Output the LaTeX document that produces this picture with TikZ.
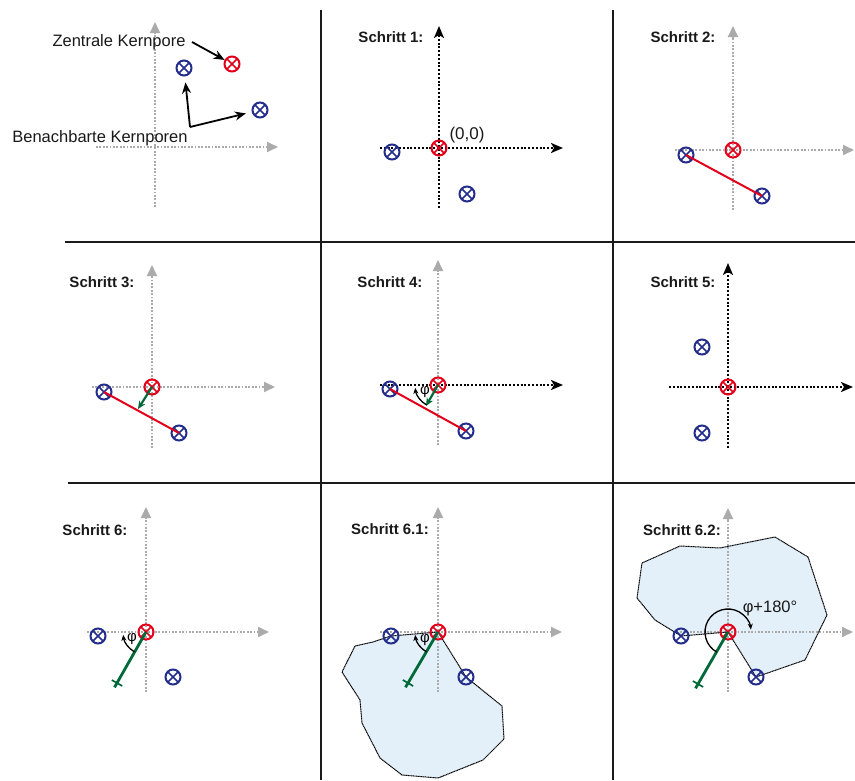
\documentclass[tikz,border=0pt]{standalone}
\usepackage{fontspec}
\setmainfont{Liberation Sans}
\usetikzlibrary{arrows.meta,calc}
\definecolor{navy}{HTML}{232D8C}
\definecolor{pred}{HTML}{E2001A}
\definecolor{pgreen}{HTML}{00693A}
\definecolor{axgray}{HTML}{ABABAB}
\definecolor{fillblue}{HTML}{E3EFF9}
\definecolor{gridcol}{HTML}{1A1A1A}
\begin{document}
\begin{tikzpicture}[x=1pt,y=-1pt,
  pore/.style={circle,draw=#1,line width=2pt,minimum size=15pt,inner sep=0pt,
    path picture={\draw[#1,line width=1.6pt]
      (path picture bounding box.north west) -- (path picture bounding box.south east)
      (path picture bounding box.north east) -- (path picture bounding box.south west);}},
  gax/.style={axgray,line width=1.8pt,dash pattern=on 1.8pt off 1.6pt,-{Triangle[length=11pt,width=10pt]}},
  bax/.style={black,line width=2pt,dash pattern=on 2pt off 1.8pt,-{Stealth[length=12pt,width=10pt,inset=3pt]}},
  gridline/.style={gridcol,line width=2pt},
  steplabel/.style={font=\bfseries\fontsize{15}{17}\selectfont,text=black!90,inner sep=0pt},
  biglabel/.style={font=\fontsize{16.5}{18}\selectfont,text=black!90,inner sep=0pt},
  pointer/.style={black,line width=1.8pt,-{Stealth[length=11pt,width=9pt]}},
  redline/.style={pred,line width=2pt},
  greenarrow/.style={pgreen,line width=2.2pt,-{Stealth[length=8pt,width=7pt]}},
  greenline/.style={pgreen,line width=2.8pt},
  greencross/.style={pgreen,line width=1.7pt},
  anglearc/.style={black,line width=1.3pt,-{Stealth[length=6pt,width=5pt]}},
  outline/.style={black,line width=1pt,dash pattern=on 1.2pt off 0.5pt},
  philabel/.style={font=\fontsize{15}{16}\selectfont,inner sep=0pt},
]
\useasboundingbox (0,0) rectangle (855,780);

% grid
\coordinate (v1t) at (321,10); \coordinate (v1b) at (321,780);
\coordinate (v2t) at (613,10); \coordinate (v2b) at (613,780);
\coordinate (h1l) at (65,242); \coordinate (h1r) at (855,242);
\coordinate (h2l) at (68,483); \coordinate (h2r) at (855,483);
\draw[gridline] (v1t) -- (v1b);
\draw[gridline] (v2t) -- (v2b);
\draw[gridline] (h1l) -- (h1r);
\draw[gridline] (h2l) -- (h2r);

% ---------- panel 0 ----------
\coordinate (a0b) at (155,207); \coordinate (a0t) at (155,22);
\coordinate (a0l) at (96,147);  \coordinate (a0r) at (278,147);
\draw[gax] (a0b) -- (a0t);
\draw[gax] (a0l) -- (a0r);
\node[pore=pred] (p0c) at (232,64) {};
\node[pore=navy] (p0a) at (184,68) {};
\node[pore=navy] (p0b) at (260,110) {};
\node[biglabel] (zk) at (119,42) {Zentrale Kernpore};
\node[biglabel] (bk) at (100,138) {Benachbarte Kernporen};
\coordinate (zks) at (192,42);
\coordinate (bkc) at (190,127);
\draw[pointer] (zks) -- (p0c);
\draw[pointer,shorten >=6pt] (bkc) -- (p0a);
\draw[pointer,shorten >=6pt] (bkc) -- (p0b);

% ---------- panel 1 ----------
\coordinate (a1b) at (439,208); \coordinate (a1t) at (439,26);
\coordinate (a1l) at (380,148); \coordinate (a1r) at (563,148);
\draw[bax] (a1b) -- (a1t);
\draw[bax] (a1l) -- (a1r);
\node[pore=pred] (p1c) at (439,148) {};
\node[pore=navy] (p1a) at (392,152) {};
\node[pore=navy] (p1b) at (467,194) {};
\node[steplabel] (s1) at (391,37) {Schritt 1:};
\node[biglabel,font=\fontsize{17}{18}\selectfont] (o1) at (467,135) {(0,0)};

% ---------- panel 2 ----------
\coordinate (a2b) at (733,210); \coordinate (a2t) at (733,26);
\coordinate (a2l) at (675,150); \coordinate (a2r) at (854,150);
\draw[gax] (a2b) -- (a2t);
\draw[gax] (a2l) -- (a2r);
\node[pore=pred] (p2c) at (733,150) {};
\node[pore=navy] (p2a) at (686,155) {};
\node[pore=navy] (p2b) at (762,196) {};
\draw[redline] (p2a.center) -- (p2b.center);
\node[steplabel] (s2) at (683,37) {Schritt 2:};

% ---------- panel 3 ----------
\coordinate (a3b) at (152,448); \coordinate (a3t) at (152,265);
\coordinate (a3l) at (92,387);  \coordinate (a3r) at (275,387);
\draw[gax] (a3b) -- (a3t);
\draw[gax] (a3l) -- (a3r);
\node[pore=pred] (p3c) at (152,387) {};
\node[pore=navy] (p3a) at (104,392) {};
\node[pore=navy] (p3b) at (179,433) {};
\draw[redline] (p3a.center) -- (p3b.center);
\coordinate (g3) at (138,409);
\draw[greenarrow] (p3c.center) -- (g3);
\node[steplabel] (s3) at (102,282) {Schritt 3:};

% ---------- panel 4 ----------
\coordinate (a4b) at (438,445); \coordinate (a4t) at (438,260);
\coordinate (a4l) at (380,385); \coordinate (a4r) at (563,385);
\draw[gax] (a4b) -- (a4t);
\draw[bax] (a4l) -- (a4r);
\node[pore=pred] (p4c) at (438,385) {};
\node[pore=navy] (p4a) at (390,389) {};
\node[pore=navy] (p4b) at (466,431) {};
\draw[redline] (p4a.center) -- (p4b.center);
\coordinate (g4) at (426,406);
\draw[greenarrow] (p4c.center) -- (g4);
\draw[anglearc] ($(p4c.center)+(120:23)$) arc[start angle=120,end angle=173,radius=23];
\node[philabel] (f4) at (425,392) {φ};
\node[steplabel] (s4) at (390,282) {Schritt 4:};

% ---------- panel 5 ----------
\coordinate (a5b) at (728,448); \coordinate (a5t) at (728,263);
\coordinate (a5l) at (669,387); \coordinate (a5r) at (853,387);
\draw[bax] (a5b) -- (a5t);
\draw[bax] (a5l) -- (a5r);
\node[pore=pred] (p5c) at (728,387) {};
\node[pore=navy] (p5a) at (702,347) {};
\node[pore=navy] (p5b) at (702,433) {};
\node[steplabel] (s5) at (683,282) {Schritt 5:};

% ---------- panel 6 ----------
\coordinate (a6b) at (146,692); \coordinate (a6t) at (146,507);
\coordinate (a6l) at (87,632);  \coordinate (a6r) at (269,632);
\draw[gax] (a6b) -- (a6t);
\draw[gax] (a6l) -- (a6r);
\node[pore=pred] (p6c) at (146,632) {};
\node[pore=navy] (p6a) at (98,636) {};
\node[pore=navy] (p6b) at (173,677) {};
\coordinate (g6) at (117,683);
\draw[greenline] (p6c.center) -- ($(g6)!-5pt!(p6c.center)$);
\draw[greencross] ($(g6)!6pt!90:(p6c.center)$) -- ($(g6)!6pt!-90:(p6c.center)$);
\draw[anglearc] ($(p6c.center)+(120:23)$) arc[start angle=120,end angle=173,radius=23];
\node[philabel] (f6) at (132,639) {φ};
\node[steplabel] (s6) at (95,530) {Schritt 6:};

% ---------- panel 7 ----------
\coordinate (c7) at (438,632); \coordinate (a7) at (391,636); \coordinate (b7) at (466,677);
\path[fill=fillblue] (c7) -- (b7) -- (502,706) -- (504,739) -- (483,760) -- (438,778) -- (402,775)
  -- (380,758) -- (362,723) -- (360,700) -- (342,672) -- (355,646) -- (373,642) -- (a7) -- cycle;
\coordinate (a7b) at (438,692); \coordinate (a7t) at (438,507);
\coordinate (a7l) at (380,632); \coordinate (a7r) at (562,632);
\draw[gax] (a7b) -- (a7t);
\draw[gax] (a7l) -- (a7r);
\draw[outline] (c7) -- (b7) -- (502,706) -- (504,739) -- (483,760) -- (438,778) -- (402,775)
  -- (380,758) -- (362,723) -- (360,700) -- (342,672) -- (355,646) -- (373,642) -- (a7) -- cycle;
\node[pore=pred] (p7c) at (c7) {};
\node[pore=navy] (p7a) at (a7) {};
\node[pore=navy] (p7b) at (b7) {};
\coordinate (g7) at (408,683);
\draw[greenline] (p7c.center) -- ($(g7)!-5pt!(p7c.center)$);
\draw[greencross] ($(g7)!6pt!90:(p7c.center)$) -- ($(g7)!6pt!-90:(p7c.center)$);
\draw[anglearc] ($(p7c.center)+(120:23)$) arc[start angle=120,end angle=173,radius=23];
\node[philabel] (f7) at (425,640) {φ};
\node[steplabel] (s7) at (390,529) {Schritt 6.1:};

% ---------- panel 8 ----------
\coordinate (c8) at (728,632); \coordinate (a8) at (681,636); \coordinate (b8) at (756,677);
\path[fill=fillblue] (c8) -- (b8) -- (805,660) -- (827,615) -- (808,557) -- (775,537) -- (720,548)
  -- (680,546) -- (642,563) -- (637,598) -- (655,620) -- (a8) -- cycle;
\coordinate (a8b) at (728,692); \coordinate (a8t) at (728,508);
\coordinate (a8l) at (673,632); \coordinate (a8r) at (853,632);
\draw[gax] (a8b) -- (a8t);
\draw[gax] (a8l) -- (a8r);
\draw[outline] (c8) -- (b8) -- (805,660) -- (827,615) -- (808,557) -- (775,537) -- (720,548)
  -- (680,546) -- (642,563) -- (637,598) -- (655,620) -- (a8) -- cycle;
\node[pore=pred] (p8c) at (c8) {};
\node[pore=navy] (p8a) at (a8) {};
\node[pore=navy] (p8b) at (b8) {};
\coordinate (g8) at (698,684);
\draw[greenline] (p8c.center) -- ($(g8)!-5pt!(p8c.center)$);
\draw[greencross] ($(g8)!6pt!90:(p8c.center)$) -- ($(g8)!6pt!-90:(p8c.center)$);
\draw[anglearc] ($(p8c.center)+(119:23)$) arc[start angle=119,end angle=354,radius=23];
\node[biglabel,font=\fontsize{16.5}{17}\selectfont] (f8) at (770,608) {φ+180°};
\node[steplabel] (s8) at (682,530) {Schritt 6.2:};
\end{tikzpicture}
\end{document}
